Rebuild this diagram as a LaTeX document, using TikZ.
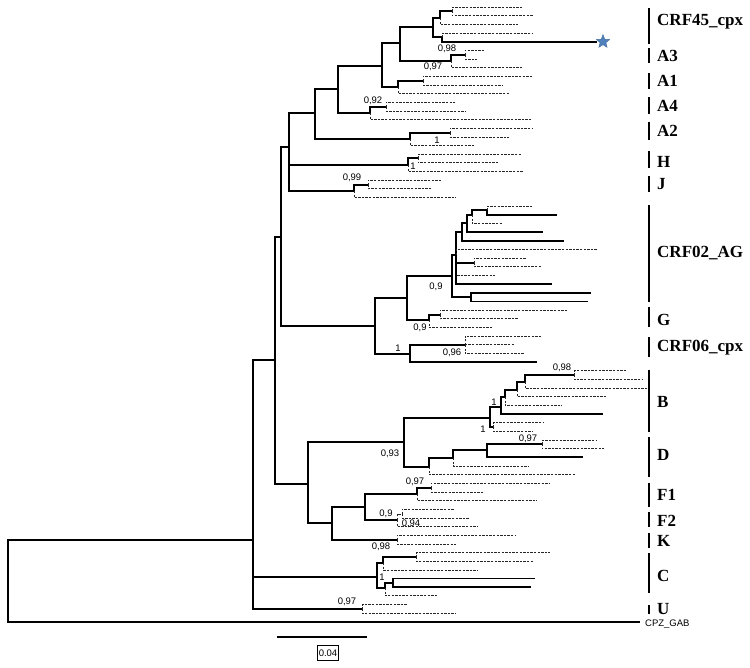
\documentclass[tikz,border=0pt]{standalone}
\usepackage{fontspec}
\setmainfont{Liberation Serif}
\setsansfont{Liberation Sans}
\usetikzlibrary{shapes.geometric}
\definecolor{starblue}{RGB}{79,129,189}
\tikzstyle{thickbr}  = [line width=1.8pt]
\tikzstyle{dashbr}   = [line width=0.8pt, black!85, dash pattern=on 2.4pt off 1.2pt]
\tikzstyle{post}     = [font=\sffamily\fontsize{9.5}{10}\selectfont, inner sep=0pt]
\tikzstyle{clade}    = [font=\bfseries\fontsize{17}{18}\selectfont, anchor=west, inner sep=0pt]
\tikzstyle{cladebar} = [line width=2.2pt]
\tikzstyle{starmark} = [star, star points=5, star point ratio=2.3, minimum size=14pt, inner sep=0pt, fill=starblue, draw=starblue!80!black, line width=0.4pt]

\begin{document}
\begin{tikzpicture}[x=1pt,y=-1pt]
	\useasboundingbox (0,0) rectangle (750,667);

	% tips, one row each
	\foreach \xe [count=\i from 0] in {523,533,518,532,597,485,477,522,532,502,
		509,455,466,532,532,509,475,522,498,523,
		442,432,456,533,557,502,543,564,598,526,
		541,495,552,591,588,567,519,492,541,515,
		524,537,627,643,650,606,562,603,543,533,
		597,604,583,529,575,550,484,537,454,470,
		477,516,456,550,534,477,535,531,437,407,
		456,640}
		\coordinate (l\i) at (\xe,{7+8.66*\i});

	% inner nodes
	\coordinate (a6) at (452,11);   \coordinate (a5) at (440,18);
	\coordinate (a7) at (442,37);   \coordinate (a4) at (433,27);
	\coordinate (a9) at (465,55);   \coordinate (a8) at (451,61);
	\coordinate (a3) at (400,43);   \coordinate (a11) at (423,81);
	\coordinate (a10) at (398,87);  \coordinate (a2) at (382,66);
	\coordinate (a13) at (386,107); \coordinate (a12) at (370,113);
	\coordinate (a1) at (338,89);   \coordinate (a15) at (450,133);
	\coordinate (a14) at (410,139); \coordinate (a0) at (315,113);
	\coordinate (h1) at (418,158);  \coordinate (h0) at (408,165);
	\coordinate (j1) at (368,185);  \coordinate (j0) at (354,191);
	\coordinate (t1) at (289,147);
	\coordinate (r5) at (487,210);  \coordinate (r4) at (472,215);
	\coordinate (r3) at (467,223);  \coordinate (r2) at (462,232);
	\coordinate (r6) at (474,263);  \coordinate (r1) at (456,255);
	\coordinate (r7) at (471,297);  \coordinate (r0) at (452,276);
	\coordinate (g1) at (440,315);  \coordinate (g0) at (429,320);
	\coordinate (cg) at (407,298);
	\coordinate (e1) at (465,345);  \coordinate (e0) at (410,354);
	\coordinate (t2) at (375,326);  \coordinate (t3) at (281,237);
	\coordinate (b5) at (574,375);  \coordinate (b4) at (525,382);
	\coordinate (b3) at (517,390);  \coordinate (b2) at (505,397);
	\coordinate (b1) at (501,407);  \coordinate (b6) at (493,427);
	\coordinate (b0) at (490,418);
	\coordinate (d3) at (542,444);  \coordinate (d2) at (487,450);
	\coordinate (d1) at (453,458);  \coordinate (d0) at (429,467);
	\coordinate (bd) at (404,442);
	\coordinate (f2) at (431,488);  \coordinate (f1) at (417,494);
	\coordinate (f4) at (402,514);  \coordinate (f3) at (397,520);
	\coordinate (f0) at (365,507);  \coordinate (k0) at (397,540);
	\coordinate (fk) at (332,523);  \coordinate (t5) at (308,484);
	\coordinate (t4) at (275,360);
	\coordinate (c2) at (416,557);  \coordinate (c1) at (383,563);
	\coordinate (c4) at (393,583);  \coordinate (c3) at (385,588);
	\coordinate (c0) at (377,577);  \coordinate (u0) at (362,609);
	\coordinate (t6) at (253,540);  \coordinate (root) at (8,581);

	% CRF45_cpx and A
	\draw[dashbr] (a6) |- (l0);  \draw[dashbr] (a6) |- (l1);
	\draw[thickbr] (a5) |- (a6); \draw[dashbr] (a5) |- (l2);
	\draw[dashbr] (a7) |- (l3);  \draw[thickbr] (a7) |- (l4);
	\draw[thickbr] (a4) |- (a5); \draw[thickbr] (a4) |- (a7);
	\draw[dashbr] (a9) |- (l5);  \draw[dashbr] (a9) |- (l6);
	\draw[thickbr] (a8) |- (a9); \draw[dashbr] (a8) |- (l7);
	\draw[thickbr] (a3) |- (a4); \draw[thickbr] (a3) |- (a8);
	\draw[dashbr] (a11) |- (l8); \draw[dashbr] (a11) |- (l9);
	\draw[thickbr] (a10) |- (a11); \draw[dashbr] (a10) |- (l10);
	\draw[thickbr] (a2) |- (a3); \draw[thickbr] (a2) |- (a10);
	\draw[dashbr] (a13) |- (l11); \draw[dashbr] (a13) |- (l12);
	\draw[thickbr] (a12) |- (a13); \draw[dashbr] (a12) |- (l13);
	\draw[thickbr] (a1) |- (a2); \draw[thickbr] (a1) |- (a12);
	\draw[dashbr] (a15) |- (l14); \draw[dashbr] (a15) |- (l15);
	\draw[thickbr] (a14) |- (a15); \draw[dashbr] (a14) |- (l16);
	\draw[thickbr] (a0) |- (a1); \draw[thickbr] (a0) |- (a14);
	\node[starmark] (star) at ([xshift=6pt]l4) {};

	% H and J
	\draw[dashbr] (h1) |- (l17); \draw[dashbr] (h1) |- (l18);
	\draw[thickbr] (h0) |- (h1); \draw[dashbr] (h0) |- (l19);
	\draw[dashbr] (j1) |- (l20); \draw[dashbr] (j1) |- (l21);
	\draw[thickbr] (j0) |- (j1); \draw[dashbr] (j0) |- (l22);
	\draw[thickbr] (t1) |- (a0); \draw[thickbr] (t1) |- (h0);
	\draw[thickbr] (t1) |- (j0);

	% CRF02_AG, G, CRF06_cpx
	\draw[dashbr] (r5) |- (l23); \draw[thickbr] (r5) |- (l24);
	\draw[thickbr] (r4) |- (r5); \draw[dashbr] (r4) |- (l25);
	\draw[thickbr] (r3) |- (r4); \draw[thickbr] (r3) |- (l26);
	\draw[thickbr] (r2) |- (r3); \draw[thickbr] (r2) |- (l27);
	\draw[dashbr] (r6) |- (l29); \draw[dashbr] (r6) |- (l30);
	\draw[thickbr] (r1) |- (r2); \draw[dashbr] (r1) |- (l28);
	\draw[thickbr] (r1) |- (r6); \draw[dashbr] (r1) |- (l31);
	\draw[thickbr] (r1) |- (l32);
	\draw[thickbr] (r7) |- (l33); \draw[thickbr] (r7) |- (l34);
	\draw[thickbr] (r0) |- (r1); \draw[thickbr] (r0) |- (r7);
	\draw[dashbr] (g1) |- (l35); \draw[dashbr] (g1) |- (l36);
	\draw[thickbr] (g0) |- (g1); \draw[dashbr] (g0) |- (l37);
	\draw[thickbr] (cg) |- (r0); \draw[thickbr] (cg) |- (g0);
	\draw[dashbr] (e1) |- (l38); \draw[dashbr] (e1) |- (l39);
	\draw[dashbr] (e1) |- (l40);
	\draw[thickbr] (e0) |- (e1); \draw[thickbr] (e0) |- (l41);
	\draw[thickbr] (t2) |- (cg); \draw[thickbr] (t2) |- (e0);
	\draw[thickbr] (t3) |- (t1); \draw[thickbr] (t3) |- (t2);

	% B and D
	\draw[dashbr] (b5) |- (l42); \draw[dashbr] (b5) |- (l43);
	\draw[thickbr] (b4) |- (b5); \draw[dashbr] (b4) |- (l44);
	\draw[thickbr] (b3) |- (b4); \draw[dashbr] (b3) |- (l45);
	\draw[thickbr] (b2) |- (b3); \draw[dashbr] (b2) |- (l46);
	\draw[thickbr] (b1) |- (b2); \draw[thickbr] (b1) |- (l47);
	\draw[dashbr] (b6) |- (l48); \draw[dashbr] (b6) |- (l49);
	\draw[thickbr] (b0) |- (b1); \draw[thickbr] (b0) |- (b6);
	\draw[dashbr] (d3) |- (l50); \draw[dashbr] (d3) |- (l51);
	\draw[thickbr] (d2) |- (d3); \draw[thickbr] (d2) |- (l52);
	\draw[thickbr] (d1) |- (d2); \draw[dashbr] (d1) |- (l53);
	\draw[thickbr] (d0) |- (d1); \draw[dashbr] (d0) |- (l54);
	\draw[thickbr] (bd) |- (b0); \draw[thickbr] (bd) |- (d0);

	% F1, F2, K
	\draw[dashbr] (f2) |- (l55); \draw[dashbr] (f2) |- (l56);
	\draw[thickbr] (f1) |- (f2); \draw[dashbr] (f1) |- (l57);
	\draw[dashbr] (f4) |- (l58); \draw[dashbr] (f4) |- (l59);
	\draw[dashbr] (f3) |- (f4); \draw[dashbr] (f3) |- (l60);
	\draw[thickbr] (f0) |- (f1); \draw[thickbr] (f0) |- (f3);
	\draw[dashbr] (k0) |- (l61); \draw[dashbr] (k0) |- (l62);
	\draw[thickbr] (fk) |- (f0); \draw[thickbr] (fk) |- (k0);
	\draw[thickbr] (t5) |- (bd); \draw[thickbr] (t5) |- (fk);
	\draw[thickbr] (t4) |- (t3); \draw[thickbr] (t4) |- (t5);

	% C, U and the outgroup
	\draw[dashbr] (c2) |- (l63); \draw[dashbr] (c2) |- (l64);
	\draw[thickbr] (c1) |- (c2); \draw[dashbr] (c1) |- (l65);
	\draw[thickbr] (c4) |- (l66); \draw[thickbr] (c4) |- (l67);
	\draw[thickbr] (c3) |- (c4); \draw[dashbr] (c3) |- (l68);
	\draw[thickbr] (c0) |- (c1); \draw[thickbr] (c0) |- (c3);
	\draw[dashbr] (u0) |- (l69); \draw[dashbr] (u0) |- (l70);
	\draw[thickbr] (t6) |- (t4); \draw[thickbr] (t6) |- (c0);
	\draw[thickbr] (t6) |- (u0);
	\draw[thickbr] (root) |- (t6); \draw[thickbr] (root) |- (l71);

	% posterior values
	\node[post] (pa9) at (447,49) {0,98};
	\node[post] (pa8) at (433,67) {0,97};
	\node[post] (pa12) at (373,101) {0,92};
	\node[post] (pa14) at (437,140) {1};
	\node[post] (ph0) at (413,166) {1};
	\node[post] (pj0) at (352,178) {0,99};
	\node[post] (pr0) at (436,287) {0,9};
	\node[post] (pg0) at (420,328) {0,9};
	\node[post] (pe0) at (398,348) {1};
	\node[post] (pe1) at (452,353) {0,96};
	\node[post] (pb5) at (562,368) {0,98};
	\node[post] (pb1) at (494,402) {1};
	\node[post] (pb6) at (483,429) {1};
	\node[post] (pd3) at (528,439) {0,97};
	\node[post] (pbd) at (390,454) {0,93};
	\node[post] (pf1) at (415,482) {0,97};
	\node[post] (pf3) at (386,514) {0,9};
	\node[post] (pf4) at (411,524) {0,94};
	\node[post] (pk0) at (381,547) {0,98};
	\node[post] (pc0) at (382,577) {1};
	\node[post] (pu0) at (347,602) {0,97};

	% subtype bars
	\draw[cladebar] (649,8) -- (649,44);    \node[clade] (nCRF45) at (657,22) {CRF45\_cpx};
	\draw[cladebar] (649,48) -- (649,63);   \node[clade] (nA3) at (657,56) {A3};
	\draw[cladebar] (649,73) -- (649,89);   \node[clade] (nA1) at (657,81) {A1};
	\draw[cladebar] (649,97) -- (649,114);  \node[clade] (nA4) at (657,106) {A4};
	\draw[cladebar] (649,122) -- (649,140); \node[clade] (nA2) at (657,131) {A2};
	\draw[cladebar] (649,151) -- (649,168); \node[clade] (nH) at (657,162) {H};
	\draw[cladebar] (649,176) -- (649,192); \node[clade] (nJ) at (657,184) {J};
	\draw[cladebar] (649,205) -- (649,302); \node[clade] (nCRF02) at (657,253) {CRF02\_AG};
	\draw[cladebar] (649,307) -- (649,327); \node[clade] (nG) at (657,320) {G};
	\draw[cladebar] (649,337) -- (649,357); \node[clade] (nCRF06) at (657,348) {CRF06\_cpx};
	\draw[cladebar] (649,370) -- (649,432); \node[clade] (nB) at (657,402) {B};
	\draw[cladebar] (649,437) -- (649,477); \node[clade] (nD) at (657,455) {D};
	\draw[cladebar] (649,483) -- (649,507); \node[clade] (nF1) at (657,495) {F1};
	\draw[cladebar] (649,512) -- (649,527); \node[clade] (nF2) at (657,521) {F2};
	\draw[cladebar] (649,533) -- (649,548); \node[clade] (nK) at (657,541) {K};
	\draw[cladebar] (649,553) -- (649,593); \node[clade] (nC) at (657,576) {C};
	\draw[cladebar] (649,605) -- (649,614); \node[clade] (nU) at (657,609) {U};
	\node[post, anchor=west] (cpz) at (645,624) {CPZ\_GAB};

	% scale
	\coordinate (s0) at (277,637);
	\coordinate (s1) at (367,637);
	\draw[thickbr] (s0) -- (s1);
	\node[post, draw, line width=0.6pt, inner xsep=1.5pt, minimum height=15pt] (sval) at (328,653) {0.04};
\end{tikzpicture}
\end{document}
